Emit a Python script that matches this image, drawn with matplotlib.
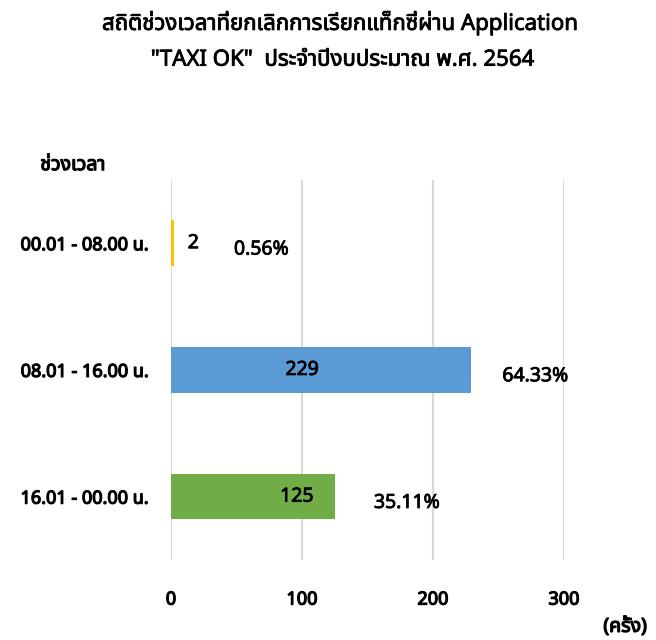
import matplotlib
matplotlib.use('Agg')
import matplotlib.pyplot as plt
import matplotlib.patheffects as pe
from matplotlib import font_manager
from matplotlib.ft2font import FT2Font

categories = ['00.01 - 08.00 น.', '08.01 - 16.00 น.', '16.01 - 00.00 น.']
counts = [2, 229, 125]
percents = ['0.56%', '64.33%', '35.11%']
colors = ['#FFC000', '#5B9BD5', '#70AD47']
xticks = [0, 100, 200, 300]

# pick a family that has Thai glyphs
thai_family = None
preferred = ['Tahoma', 'Leelawadee UI', 'Noto Sans Thai', 'Noto Sans Thai UI', 'Loma', 'Garuda', 'Sarabun']
found = {}
for f in font_manager.fontManager.ttflist:
    try:
        if 0x0E01 in FT2Font(f.fname).get_charmap():
            found.setdefault(f.name, f.fname)
    except Exception:
        pass
for name in preferred:
    if name in found:
        thai_family = name
        break
if thai_family is None and found:
    thai_family = sorted(found)[0]
families = ([thai_family] if thai_family else []) + ['DejaVu Sans']
plt.rcParams['font.family'] = families

# fake bold, the Thai family has no bold face
bold = [pe.withStroke(linewidth=0.9, foreground='black')]
semi = [pe.withStroke(linewidth=0.6, foreground='black')]

fig = plt.figure(figsize=(6.56, 6.4), dpi=100)
ax = fig.add_axes([0.2607, 0.125, 0.599, 0.594])

ypos = range(len(categories))
ax.barh(ypos, counts, height=0.36, color=colors, zorder=3)
ax.set_ylim(2.5, -0.5)
ax.set_xlim(0, 300)
ax.set_xticks(xticks)
ax.set_xticklabels([str(t) for t in xticks], fontsize=13, path_effects=bold)
ax.set_yticks(list(ypos))
ax.set_yticklabels(categories, fontsize=13, path_effects=bold)
ax.tick_params(axis='both', length=0)
ax.tick_params(axis='x', pad=22)
ax.tick_params(axis='y', pad=16)
ax.grid(axis='x', color='#D9D9D9', linewidth=1.5, zorder=0)
for s in ax.spines.values():
    s.set_visible(False)

# value and percent label positions (data units)
value_x = [17, 100, 96]
pct_x = [69, 278, 180]
for i in ypos:
    ax.text(value_x[i], i, str(counts[i]), ha='center', va='center',
            fontsize=14, path_effects=semi, zorder=4)
    ax.text(pct_x[i], i + 0.05, percents[i], ha='center', va='center',
            fontsize=14, path_effects=semi, zorder=4)

fig.text(0.518, 0.965, 'สถิติช่วงเวลาที่ยกเลิกการเรียกแท็กซี่ผ่าน Application',
         ha='center', va='center', fontsize=16, path_effects=semi)
fig.text(0.522, 0.906, '"TAXI OK"  ประจำปีงบประมาณ พ.ศ. 2564',
         ha='center', va='center', fontsize=16, path_effects=semi)
fig.text(0.111, 0.742, 'ช่วงเวลา', ha='center', va='center',
         fontsize=14, path_effects=bold)
fig.text(0.953, 0.021, '(ครั้ง)', ha='center', va='center',
         fontsize=14, path_effects=bold)

fig.savefig('out.png', dpi=100)
